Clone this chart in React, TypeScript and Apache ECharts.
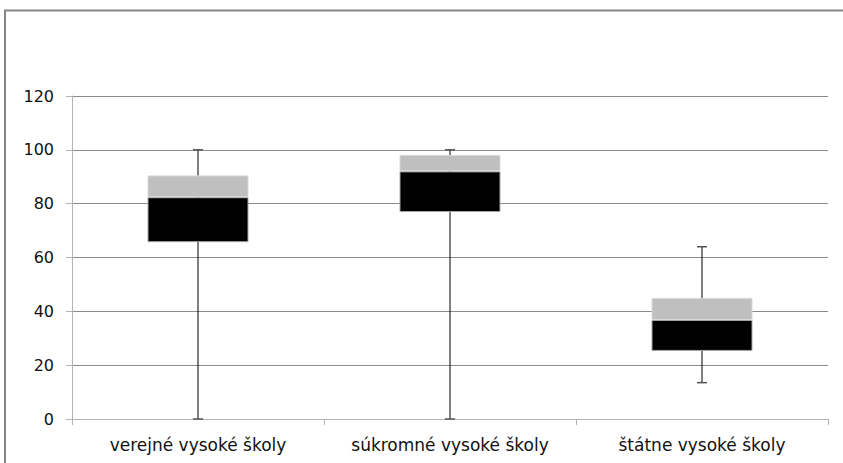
import React, { useEffect, useRef } from "react";
import * as echarts from "echarts";

// Five-number summary per school type
const categories = ["verejné vysoké školy", "súkromné vysoké školy", "štátne vysoké školy"];
const minimum = [0, 0, 13.5];
const quartile1 = [65.7, 76.9, 25.3];
const medians = [82.4, 92, 36.8];
const quartile3 = [90.5, 98.1, 45];
const maximum = [100, 100, 64];

const yTicks = { min: 0, max: 120, interval: 20 };

const FONT = "'DejaVu Sans', sans-serif";

export default function App() {
  const ref = useRef<HTMLDivElement>(null);

  useEffect(() => {
    if (!ref.current) return;
    const chart = echarts.init(ref.current, undefined, { renderer: "svg" });

    const lowerBox = quartile1.map((q, i) => +(medians[i] - q).toFixed(2));
    const upperBox = quartile3.map((q, i) => +(q - medians[i]).toFixed(2));
    const whiskers = categories.map((_, i) => [i, minimum[i], maximum[i]]);

    chart.setOption({
      animation: false,
      backgroundColor: "#ffffff",
      textStyle: { fontFamily: FONT },
      graphic: [
        {
          type: "rect",
          shape: { x: 5, y: 10.5, width: 900, height: 500 },
          style: { fill: "none", stroke: "#868686", lineWidth: 2 },
          silent: true,
        },
      ],
      grid: { left: 72, right: 15, top: 96, bottom: 44, containLabel: false },
      xAxis: {
        type: "category",
        data: categories,
        boundaryGap: true,
        axisLine: { show: true, lineStyle: { color: "#b3b3b3", width: 1 } },
        axisTick: { show: true, length: 6, alignWithLabel: false, interval: 0, lineStyle: { color: "#b3b3b3" } },
        axisLabel: {
          interval: 0,
          hideOverlap: false,
          margin: 17,
          color: "#111",
          fontSize: 17,
          fontFamily: FONT,
        },
        splitLine: { show: false },
      },
      yAxis: {
        type: "value",
        min: yTicks.min,
        max: yTicks.max,
        interval: yTicks.interval,
        axisLine: { show: true, lineStyle: { color: "#b3b3b3", width: 1 } },
        axisTick: { show: true, length: 6, lineStyle: { color: "#b3b3b3" } },
        axisLabel: { margin: 18, color: "#111", fontSize: 16, fontFamily: FONT },
        splitLine: { show: true, lineStyle: { color: "#8c8c8c", width: 1 } },
      },
      series: [
        {
          name: "whiskers",
          type: "custom",
          z: 1,
          data: whiskers,
          renderItem: (params: any, api: any) => {
            const x = api.value(0);
            const lo = api.coord([x, api.value(1)]);
            const hi = api.coord([x, api.value(2)]);
            const half = 5;
            return {
              type: "group",
              children: [
                {
                  type: "line",
                  shape: { x1: lo[0], y1: lo[1], x2: hi[0], y2: hi[1] },
                  style: { stroke: "#000", lineWidth: 1 },
                },
                {
                  type: "line",
                  shape: { x1: hi[0] - half, y1: hi[1], x2: hi[0] + half, y2: hi[1] },
                  style: { stroke: "#555", lineWidth: 1.5 },
                },
                {
                  type: "line",
                  shape: { x1: lo[0] - half, y1: lo[1], x2: lo[0] + half, y2: lo[1] },
                  style: { stroke: "#555", lineWidth: 1.5 },
                },
              ],
            };
          },
        },
        {
          name: "base",
          type: "bar",
          stack: "box",
          barWidth: 101,
          z: 2,
          itemStyle: { color: "transparent" },
          data: quartile1,
        },
        {
          name: "lower",
          type: "bar",
          stack: "box",
          barWidth: 101,
          z: 2,
          itemStyle: { color: "#000000", borderColor: "#a6a6a6", borderWidth: 1 },
          data: lowerBox,
        },
        {
          name: "upper",
          type: "bar",
          stack: "box",
          barWidth: 101,
          z: 2,
          itemStyle: { color: "#bfbfbf", borderColor: "#d9d9d9", borderWidth: 1 },
          data: upperBox,
        },
      ],
    });

    return () => chart.dispose();
  }, []);

  return (
    <div
      ref={ref}
      style={{ position: "absolute", left: 0, top: 0, width: 843, height: 463 }}
    />
  );
}
